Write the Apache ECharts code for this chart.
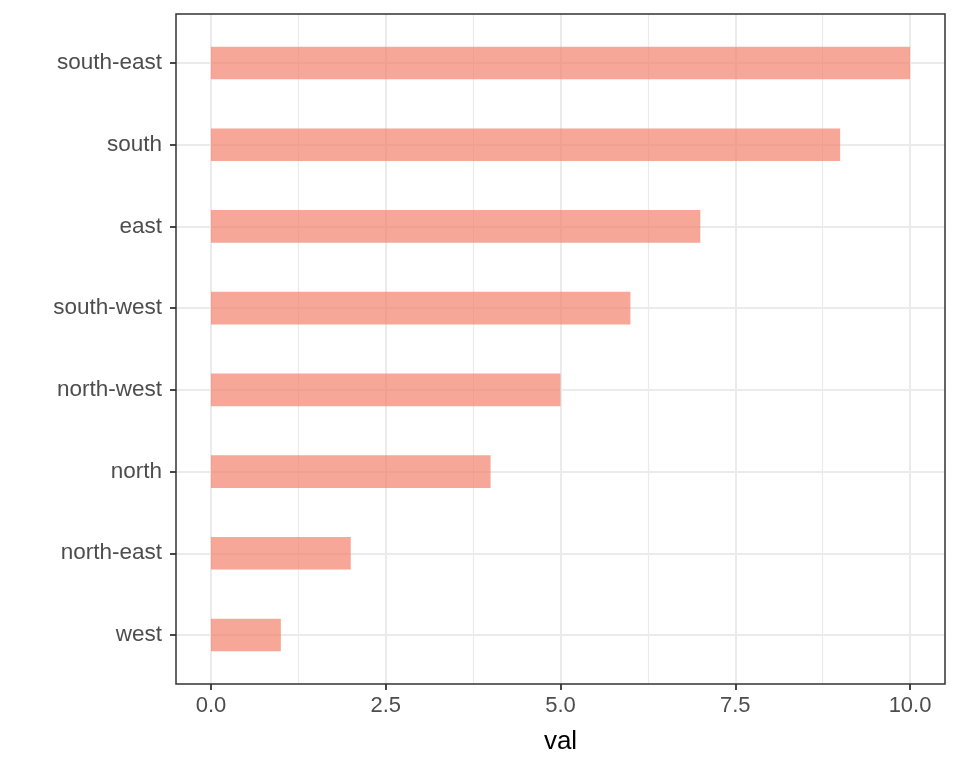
<!DOCTYPE html>
<html>
<head>
<meta charset="utf-8">
<script src="https://cdn.jsdelivr.net/npm/echarts@6/dist/echarts.min.js"></script>
<style>html,body{margin:0;padding:0;background:#fff;}#c{width:960px;height:768px;}</style>
</head>
<body>
<div id="c"></div>
<script>
// categories bottom-to-top
const categories = ['west', 'north-east', 'north', 'north-west', 'south-west', 'east', 'south', 'south-east'];
const values = [1, 2, 4, 5, 6, 7, 9, 10];
const xTicks = [0, 2.5, 5, 7.5, 10];
const xMinor = [1.25, 3.75, 6.25, 8.75];

const chart = echarts.init(document.getElementById('c'), null, {renderer: 'canvas'});
const yPositions = categories.map((c, i) => i + 1);
const barData = values.map((v, i) => [v, i + 1]);
const labelColor = '#4D4D4D';
const font = '"Liberation Sans", Arial, Helvetica, sans-serif';

chart.setOption({
  animation: false,
  backgroundColor: '#ffffff',
  grid: [
    {left: 176, right: 15, top: 14, bottom: 84, show: true, borderColor: '#333333', borderWidth: 1.5, backgroundColor: 'transparent', z: 10},
  ],
  xAxis: [{
    type: 'value', min: -0.5, max: 10.5,
    name: 'val', nameLocation: 'middle', nameGap: 45,
    nameTextStyle: {color: '#000', fontSize: 26, fontFamily: font},
    axisLine: {show: false, onZero: false},
    axisTick: {show: true, inside: false, length: 6, lineStyle: {color: '#333333', width: 1.8}, customValues: xTicks},
    axisLabel: {customValues: xTicks, color: labelColor, fontSize: 22, fontFamily: font, margin: 11,
      formatter: v => Number(v).toFixed(1)},
    splitLine: {show: true, lineStyle: {color: '#EBEBEB', width: 2}}
  }, {
    type: 'value', min: -0.5, max: 10.5, gridIndex: 0, position: 'top', show: true,
    axisLine: {show: false, onZero: false}, axisLabel: {show: false},
    axisTick: {show: false, customValues: xMinor},
    splitLine: {show: true, lineStyle: {color: '#EBEBEB', width: 1.2}}
  }],
  yAxis: [{
    type: 'value', min: 0.4, max: 8.6,
    axisLine: {show: false, onZero: false},
    axisTick: {show: true, inside: false, length: 6, lineStyle: {color: '#333333', width: 1.8}, customValues: yPositions},
    axisLabel: {customValues: yPositions, color: labelColor, fontSize: 22.5, fontFamily: font, margin: 14,
      formatter: v => categories[Math.round(v) - 1] || ''},
    splitLine: {show: true, lineStyle: {color: '#EBEBEB', width: 2}}
  }],
  series: [{
    type: 'custom',
    xAxisIndex: 0, yAxisIndex: 0,
    data: barData,
    renderItem: function (params, api) {
      const v = api.value(0), y = api.value(1);
      const p0 = api.coord([0, y + 0.2]);
      const p1 = api.coord([v, y - 0.2]);
      return {
        type: 'rect',
        shape: {x: p0[0], y: p0[1], width: p1[0] - p0[0], height: p1[1] - p0[1]},
        style: {fill: 'rgba(242,129,108,0.7)'}
      };
    },
    encode: {x: 0, y: 1},
    z: 5
  }]
});
</script>
</body>
</html>
